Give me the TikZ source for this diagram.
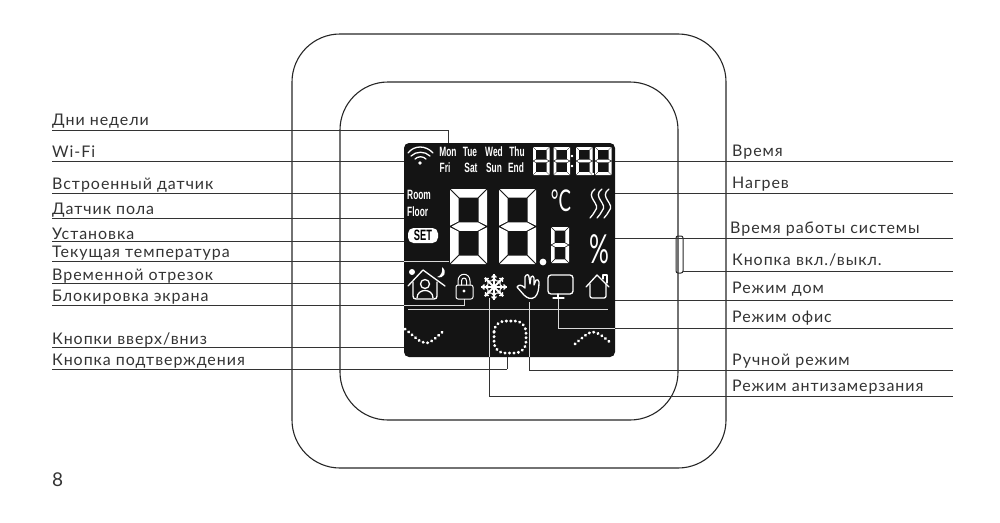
\documentclass[tikz,border=0pt]{standalone}
\usepackage{fontspec}
\setmainfont[LetterSpace=6]{Lato}
\newfontfamily\lcdfont[FakeStretch=0.62]{Liberation Sans}
\newfontfamily\lcdthin[FakeStretch=0.62]{Lato}

% one seven-segment digit: left, top, width, height, stroke
\newcommand{\lcddigit}[5]{%
  \begin{scope}[shift={(#1,#2)}]
    \pgfmathsetmacro\dw{#3}
    \pgfmathsetmacro\dh{#4}
    \pgfmathsetmacro\dt{#5}
    \pgfmathsetmacro\dm{\dh/2}
    \pgfmathsetmacro\dg{0.06*\dt+0.3}
    \fill[white] (\dg,0) -- ({\dw-\dg},0) -- ({\dw-\dt-\dg},\dt) -- ({\dt+\dg},\dt) -- cycle;
    \fill[white] (\dg,\dh) -- ({\dw-\dg},\dh) -- ({\dw-\dt-\dg},{\dh-\dt}) -- ({\dt+\dg},{\dh-\dt}) -- cycle;
    \fill[white] ({2*\dg},\dm) -- ({\dt+\dg},{\dm-\dt/2}) -- ({\dw-\dt-\dg},{\dm-\dt/2}) -- ({\dw-2*\dg},\dm) -- ({\dw-\dt-\dg},{\dm+\dt/2}) -- ({\dt+\dg},{\dm+\dt/2}) -- cycle;
    \foreach \sx/\ex in {0/\dt,\dw/{\dw-\dt}} {
      \fill[white] (\sx,\dg) -- ({\ex},{\dt+\dg}) -- ({\ex},{\dm-\dt/2-\dg}) -- (\sx,{\dm-\dg}) -- cycle;
      \fill[white] (\sx,{\dm+\dg}) -- ({\ex},{\dm+\dt/2+\dg}) -- ({\ex},{\dh-\dt-\dg}) -- (\sx,{\dh-\dg}) -- cycle;
    }
  \end{scope}}

\begin{document}
\begin{tikzpicture}[
    x=1pt, y=-1pt,
    shell/.style={black!85, line width=1.1pt, rounded corners=48pt},
    leader/.style={black!80, line width=0.9pt},
    inleader/.style={white!85!black, line width=0.9pt},
    lbl/.style={black!80, font=\fontsize{16}{18}\selectfont, anchor=base west, inner sep=0pt},
    lcdscreen/.style={fill=black!92, rounded corners=5pt, minimum width=211pt, minimum height=214pt, inner sep=0pt},
    lcdday/.style={white, font=\lcdfont\bfseries\fontsize{13.5}{15}\selectfont, inner sep=0pt},
    icon/.style={white, line width=1.3pt, line join=round, line cap=round},
    dots/.style={white, line width=3pt, line cap=round, dash pattern=on 0.3pt off 4.2pt},
]
\useasboundingbox (0,0) rectangle (1000,522);

% =========================================================
% housing and side button
% =========================================================
\draw[shell] (292,34) rectangle (726,468);
\draw[shell] (340,82) rectangle (678,420);
\draw[black!85, line width=1pt, rounded corners=2pt] (676,236) rectangle (683,273);

% =========================================================
% labels on the left: name / line / baseline / end / text
% =========================================================
\foreach \name/\y/\b/\ex/\txt in {
    dni/130/125/448/Дни недели,
    wifi/161/157/404/Wi-Fi,
    room/193/189/404/Встроенный датчик,
    floor/218/214/404/Датчик пола,
    set/241/239/404/Установка,
    temp/261/257/404/Текущая температура,
    slot/283/280/404/Временной отрезок,
    lock/305/301/404/Блокировка экрана,
    updown/347/344/404/{Кнопки вверх/вниз},
    confirm/369/365/507/Кнопка подтверждения} {
  \node[lbl] (\name) at (52,\b) {\txt};
  \coordinate (\name-end) at (\ex,\y);
  \draw[leader] (\name.base west |- \name-end) -- (\name-end);
}

% labels on the right, lines run from the end point to the margin
\foreach \name/\y/\b/\lx/\ex/\txt in {
    clock/161/156/732/615/Время,
    heat/193/188/732/615/Нагрев,
    runtime/238/233/730/615/Время работы системы,
    power/271/265/732/683/{Кнопка вкл./выкл.},
    home/300/293/732/615/Режим дом,
    office/328/322/732/615/Режим офис,
    manual/370/365/732/529/Ручной режим,
    frost/396/391/732/489/Режим антизамерзания} {
  \node[lbl] (\name) at (\lx,\b) {\txt};
  \coordinate (\name-end) at (\ex,\y);
  \coordinate (\name-far) at (953,\y);
  \draw[leader] (\name-end) -- (\name-far);
}

\coordinate (dni-tip) at (448,143);
\coordinate (confirm-tip) at (507,357);
\coordinate (manual-tip) at (529,357);
\coordinate (frost-tip) at (489,357);
\draw[leader] (dni-end) -- (dni-tip);
\draw[leader] (confirm-end) -- (confirm-tip);
\draw[leader] (manual-end) -- (manual-tip);
\draw[leader] (frost-end) -- (frost-tip);

% =========================================================
% display
% =========================================================
\node[lcdscreen] (lcd) at (509.5,250) {};

% parts of the lines that run on the screen
\coordinate (temp-tip) at (449,261);
\coordinate (lock-tip) at (464,299);
\coordinate (office-tip) at (558,298);
\coordinate (manual-top) at (529,302);
\coordinate (frost-top) at (489,298);
\draw[inleader] (temp-end) -- (temp-tip);
\draw[inleader] (lock-end) -| (lock-tip);
\draw[inleader] (office-end) -| (office-tip);
\draw[inleader] (manual-tip) -- (manual-top);
\draw[inleader] (frost-tip) -- (frost-top);

% wifi
\fill[white] (420,163) circle (1.8);
\draw[icon] (408,153) .. controls (414,145) and (426,145) .. (433,153);
\draw[icon] (411,156) .. controls (416,151) and (425,151) .. (430,156);
\draw[icon] (415,159) .. controls (418,156) and (423,156) .. (426,159);

% days
\foreach \day/\dx/\dy in {Mon/448/152,Tue/470/152,Wed/494/152,Thu/517/152,
                          Fri/445/168,Sat/471/168,Sun/494/168,End/516/168}
  \node[lcdday] (\day) at (\dx,\dy) {\day};

% clock digits
\foreach \dx in {533,553.5,576,595}
  \lcddigit{\dx}{147}{16.5}{28}{2.8}
\fill[white] (572,156) circle (1.2) (572,166) circle (1.2) (593,174) circle (1.2);

% room / floor / set
\node[lcdday, anchor=west] (roomtxt) at (407,195) {Room};
\node[lcdday, anchor=west] (floortxt) at (407,212) {Floor};
\node[fill=white, rounded corners=5.5pt, minimum width=30pt, minimum height=15pt, inner sep=0pt,
      text=black, font=\lcdfont\bfseries\fontsize{15}{16}\selectfont] (settxt) at (423,235.5) {SET};

% big digits
\lcddigit{450}{189}{37}{75}{8.5}
\lcddigit{499}{189}{37}{75}{8.5}
\fill[white] (543,262) circle (3.4);
\lcddigit{551}{227}{18}{36}{3.6}

% unit and percent
\node[white, inner sep=0pt, font=\lcdthin\fontsize{30}{32}\selectfont] (degree) at (561,201) {°C};
\node[white, inner sep=0pt, font=\lcdthin\fontsize{40}{42}\selectfont] (percent) at (599,249) {\%};

% heat waves
\foreach \dx in {0,7,14}
  \draw[icon] (595+\dx,189) .. controls (584+\dx,197) and (602+\dx,204) .. (595+\dx,211)
              .. controls (594+\dx,213) and (592+\dx,216) .. (590+\dx,218);

% house with person
\fill[white] (412,272) circle (3);
\fill[white] (442,267) .. controls (448,272) and (444,279) .. (437,277)
             .. controls (441,276) and (443,272) .. (442,267) -- cycle;
\draw[icon] (408,286) -- (423,270) -- (445,286);
\draw[icon] (413,282) -- (413,296) .. controls (413,298) and (414,299) .. (416,299)
            -- (434,299) .. controls (436,299) and (437,298) .. (437,296) -- (437,282);
\draw[icon] (425,284) circle (4.5);
\draw[icon] (417,298) .. controls (417,288) and (433,288) .. (433,298);

% lock
\draw[icon, line width=1pt, rounded corners=2pt] (456,285) rectangle (473,299);
\draw[icon, line width=1pt] (458,285) -- (458,281) .. controls (458,272) and (470,272) .. (470,281) -- (470,285);
\draw[icon, line width=1pt] (461.5,285) -- (461.5,281) .. controls (461.5,277) and (466.5,277) .. (466.5,281) -- (466.5,285);
\fill[white] (464,291) circle (1.7);

% snowflake
\foreach \r in {0,45,...,315} {
  \begin{scope}[shift={(494,287)}, rotate=\r]
    \draw[white, line width=1.8pt] (0,0) -- (13,0);
    \draw[white, line width=1.3pt] (6,-2.4) -- (8.5,0) -- (6,2.4);
    \draw[white, line width=1.3pt] (9.5,-2.4) -- (12,0) -- (9.5,2.4);
  \end{scope}
}

% hand
\draw[icon] (517,287) .. controls (519,284) and (522,285) .. (525,288)
            -- (525,277) .. controls (526,274) and (529,274) .. (529,277) -- (530,284)
            -- (531,277) .. controls (532,275) and (534,276) .. (534,278) -- (534,285)
            -- (536,280) .. controls (537,279) and (539,280) .. (539,282)
            .. controls (539,289) and (538,294) .. (535,297)
            .. controls (531,300) and (527,298) .. (524,295) -- cycle;

% monitor
\draw[icon, rounded corners=3pt] (548,275) rectangle (573,294);
\draw[icon] (558,294) -- (558,297);
\draw[icon] (553,298) -- (564,298);

% home
\draw[icon] (586,287) -- (597,275) -- (609,287);
\draw[icon, rounded corners=2pt] (590,284) -- (590,298) -- (606,298) -- (606,284);
\draw[icon] (603,279) -- (603,275) -- (607,275) -- (607,283);

% separator and touch keys
\draw[white!85!black, line width=0.8pt] (408,309.5) -- (608,309.5);
\draw[dots] (405,329) .. controls (414,336) and (420,343) .. (426,343) .. controls (432,343) and (438,335) .. (445,330);
\draw[dots] (575,344) .. controls (582,338) and (588,332) .. (593,332) .. controls (598,332) and (605,338) .. (612,344);
\draw[dots, rounded corners=11pt] (494,321) rectangle (526,353);

% =========================================================
% page number
% =========================================================
\node[lbl, font=\fontsize{19}{20}\selectfont] (pagenum) at (52,486) {8};

\end{tikzpicture}
\end{document}
